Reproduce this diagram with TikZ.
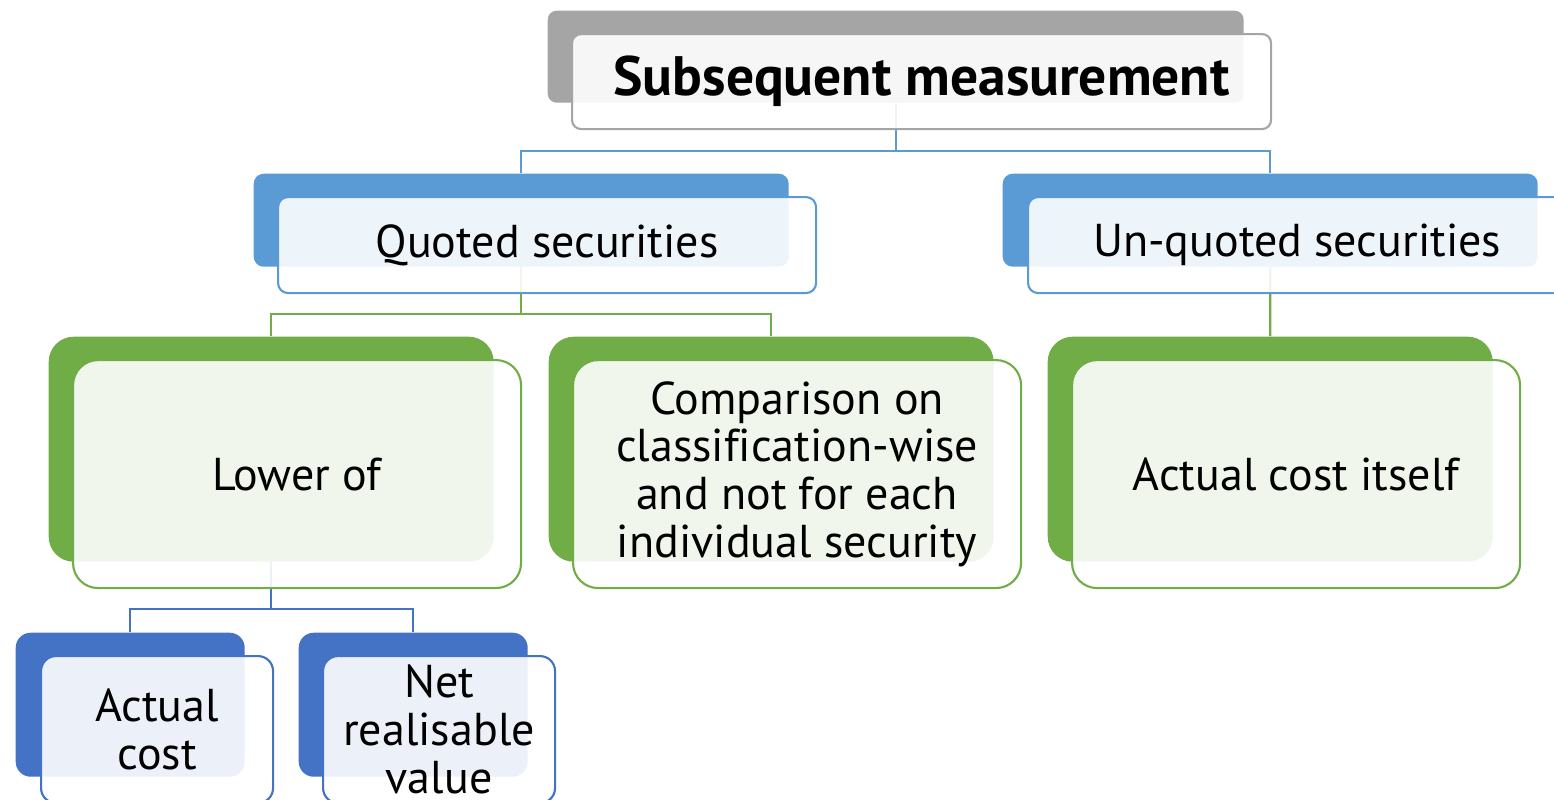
\documentclass[tikz,border=0pt]{standalone}
\usepackage{fontspec}
\setmainfont[Ligatures=NoCommon]{PT Sans}
\usetikzlibrary{positioning}
\definecolor{RootGray}{HTML}{A5A5A5}
\definecolor{MidBlue}{HTML}{5B9BD5}
\definecolor{LeafGreen}{HTML}{70AD47}
\definecolor{LowBlue}{HTML}{4472C4}

\begin{document}
\begin{tikzpicture}[
  back/.style={inner sep=0pt, anchor=north west},
  front/.style={fill=white, fill opacity=0.9, text opacity=1, line width=0.6pt,
    inner sep=0pt, align=center, font=\fontsize{13.1}{13.6}\selectfont},
  lvltop/.style={minimum width=6.96cm, minimum height=0.92cm, rounded corners=0.09cm},
  lvlmid/.style={minimum width=5.35cm, minimum height=0.93cm, rounded corners=0.1cm},
  lvlbox/.style={minimum width=4.45cm, minimum height=2.25cm, rounded corners=0.25cm},
  lvlend/.style={minimum width=2.29cm, minimum height=1.44cm, rounded corners=0.15cm},
  link/.style={line width=0.6pt}
]
  \useasboundingbox (0,0) rectangle (15.54,-7.99);
  % back boxes
  \node[back,lvltop,fill=RootGray] (rootb) at (5.47,-0.10) {};
  \node[back,lvlmid,fill=MidBlue] (quotedb) at (2.53,-1.73) {};
  \node[back,lvlmid,fill=MidBlue] (unquotedb) at (10.02,-1.73) {};
  \node[back,lvlbox,fill=LeafGreen] (lowerb) at (0.48,-3.36) {};
  \node[back,lvlbox,fill=LeafGreen] (comparb) at (5.48,-3.36) {};
  \node[back,lvlbox,fill=LeafGreen] (itselfb) at (10.47,-3.36) {};
  \node[back,lvlend,fill=LowBlue] (costb) at (0.15,-6.32) {};
  \node[back,lvlend,fill=LowBlue] (nrvb) at (2.98,-6.32) {};
  % connectors
  \draw[link,MidBlue] (rootb.south) -- ++(0,-0.48) -| (quotedb.north);
  \draw[link,MidBlue] (rootb.south) -- ++(0,-0.48) -| (unquotedb.north);
  \draw[link,LeafGreen] (quotedb.south) -- ++(0,-0.47) -| (lowerb.north);
  \draw[link,LeafGreen] (quotedb.south) -- ++(0,-0.47) -| (comparb.north);
  \draw[link,LeafGreen] (unquotedb.south) -- (itselfb.north);
  \draw[link,LowBlue] (lowerb.south) -- ++(0,-0.47) -| (costb.north);
  \draw[link,LowBlue] (lowerb.south) -- ++(0,-0.47) -| (nrvb.north);
  % front boxes
  \node[front,lvltop,draw=RootGray,minimum width=6.99cm,minimum height=0.95cm,
    font=\fontsize{15.8}{17}\selectfont\bfseries,
    below right=0.23cm and 0.24cm of rootb.north west] (root) {Subsequent measurement};
  \node[front,lvlmid,draw=MidBlue,minimum width=5.38cm,minimum height=0.96cm,
    below right=0.23cm and 0.24cm of quotedb.north west] (quoted) {Quoted securities};
  \node[front,lvlmid,draw=MidBlue,minimum width=5.38cm,minimum height=0.96cm,
    below right=0.23cm and 0.25cm of unquotedb.north west] (unquoted) {Un-quoted securities};
  \node[front,lvlbox,draw=LeafGreen,minimum width=4.48cm,minimum height=2.28cm,
    below right=0.23cm and 0.24cm of lowerb.north west] (lower) {Lower of};
  \node[front,lvlbox,draw=LeafGreen,minimum width=4.48cm,minimum height=2.28cm,
    below right=0.23cm and 0.24cm of comparb.north west] (compar)
    {Comparison on\\classification-wise\\and not for each\\individual security};
  \node[front,lvlbox,draw=LeafGreen,minimum width=4.48cm,minimum height=2.28cm,
    below right=0.23cm and 0.24cm of itselfb.north west] (itself) {Actual cost itself};
  \node[front,lvlend,draw=LowBlue,minimum width=2.32cm,minimum height=1.47cm,
    below right=0.23cm and 0.25cm of costb.north west] (cost) {Actual\\cost};
  \node[front,lvlend,draw=LowBlue,minimum width=2.32cm,minimum height=1.47cm,
    below right=0.23cm and 0.24cm of nrvb.north west] (nrv) {Net\\realisable\\value};
\end{tikzpicture}
\end{document}
